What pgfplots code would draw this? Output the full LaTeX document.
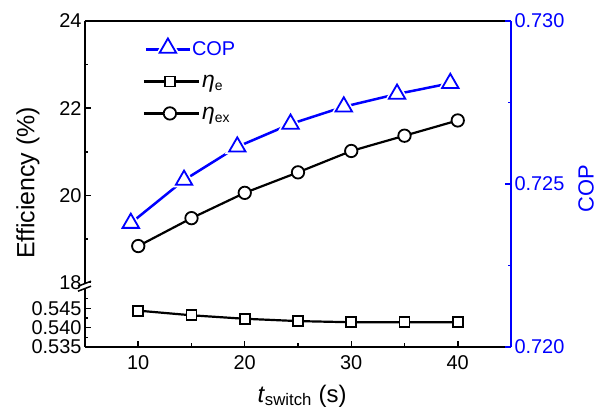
\documentclass[border=0pt]{standalone}
\usepackage{fontspec}
\setmainfont{Liberation Sans}
\usepackage{pgfplots}
\pgfplotsset{compat=1.18}
\begin{document}
\begin{tikzpicture}
\path[use as bounding box] (-85bp,-61bp) rectangle (517bp,347bp);
\pgfplotsset{
  every axis/.append style={
    scale only axis, width=426bp, clip=false, xmin=5, xmax=45,
    tick align=inside,
    major tick length=6bp, minor tick length=3.5bp,
    tick style={line width=1.5bp, black},
    tick label style={font=\fontsize{20}{24}\selectfont},
    /pgf/number format/assume math mode=true,
    axis line style={line width=1.8bp, -},
    scaled y ticks=false,
  },
}
% ---- upper (eta_ex) ----
\begin{axis}[at={(0bp,64.3bp)}, anchor=south west, height=261.7bp,
  ymin=18, ymax=24,
  axis x line*=top, axis y line*=left, xtick=\empty,
  ytick={18,20,22,24}, minor ytick={19,21,23},
  legend style={draw=none, fill=none, at={(axis description cs:0.135,0.938)}, anchor=north west,
    font=\fontsize{20}{24}\selectfont, row sep=0bp, inner sep=0pt,
    nodes={inner sep=2bp, text height=16bp, text depth=12bp, anchor=base west}},
  legend cell align=left,
]
\addlegendimage{legend image code/.code={
  \draw[blue, line width=2.5bp] (2bp,6bp) -- (46bp,6bp);
  \draw[white, line width=5bp, fill=white] plot[only marks, mark=triangle*, mark size=9.5bp] coordinates {(24bp,7.5bp)};
  \draw[blue, line width=1.8bp, fill=white] plot[only marks, mark=triangle*, mark size=9.5bp] coordinates {(24bp,7.5bp)};
}}
\addlegendentry{\hspace{-10bp}\textcolor{blue}{COP}}
\addlegendimage{legend image code/.code={
  \draw[black, line width=2.4bp] (0bp,6bp) -- (55bp,6bp);
  \draw[black, line width=1.8bp, fill=white] plot[only marks, mark=square*, mark size=5bp] coordinates {(26bp,6bp)};
}}
\addlegendentry{{\fontsize{23}{24}\selectfont\textit{η}}\textsubscript{e}}
\addlegendimage{legend image code/.code={
  \draw[black, line width=2.4bp] (0bp,6bp) -- (55bp,6bp);
  \draw[black, line width=1.8bp, fill=white] plot[only marks, mark=*, mark size=6.2bp] coordinates {(26bp,6bp)};
}}
\addlegendentry{{\fontsize{23}{24}\selectfont\textit{η}}\textsubscript{ex}}
\addplot[black, line width=2.2bp, mark=*, mark size=6.2bp, mark options={fill=white, line width=1.8bp}, forget plot]
  coordinates {(10,18.84) (15,19.48) (20,20.06) (25,20.53) (30,21.02) (35,21.37) (40,21.72)};
\end{axis}
% ---- lower (eta_e) ----
\begin{axis}[at={(0bp,0bp)}, anchor=south west, height=58bp,
  ymin=0.535, ymax=0.550,
  axis x line*=bottom, axis y line*=left,
  xtick={10,20,30,40}, minor xtick={15,25,35},
  xticklabel style={yshift=-5bp},
  ytick={0.535,0.540,0.545}, minor ytick={0.5375,0.5425,0.5475},
  yticklabel style={/pgf/number format/.cd, fixed, fixed zerofill, precision=3},
]
\addplot[black, line width=2.2bp, mark=square*, mark size=5bp, mark options={fill=white, line width=1.8bp}]
  coordinates {(10,0.5444) (15,0.5432) (20,0.5423) (25,0.5417) (30,0.5414) (35,0.5414) (40,0.5414)};
\end{axis}
% ---- COP axis ----
\begin{axis}[at={(0bp,0bp)}, anchor=south west, height=326bp,
  ymin=0.720, ymax=0.730,
  axis y line*=right, axis x line=none,
  y axis line style={blue},
  ytick style={blue, line width=1.5bp},
  ytick={0.720,0.725,0.730}, minor ytick={0.7225,0.7275},
  yticklabel style={blue, /pgf/number format/.cd, fixed, fixed zerofill, precision=3},
]
\addplot[blue, line width=2.5bp] coordinates
  {(9.3,0.72380) (14.3,0.72512) (19.3,0.72614) (24.3,0.72684) (29.3,0.72737) (34.3,0.72776) (39.3,0.72809)};
\addplot[only marks, white, mark=triangle*, mark size=9.5bp, mark options={line width=5bp, fill=white}] coordinates
  {(9.3,0.72380) (14.3,0.72512) (19.3,0.72614) (24.3,0.72684) (29.3,0.72737) (34.3,0.72776) (39.3,0.72809)};
\addplot[only marks, blue, mark=triangle*, mark size=9.5bp, mark options={line width=1.8bp, fill=white}] coordinates
  {(9.3,0.72380) (14.3,0.72512) (19.3,0.72614) (24.3,0.72684) (29.3,0.72737) (34.3,0.72776) (39.3,0.72809)};
\end{axis}
% axis break marks
\draw[line width=1.5bp] (-7bp,60.8bp) -- (6bp,65.8bp);
\draw[line width=1.5bp] (-7bp,55.8bp) -- (6bp,60.8bp);
% axis titles
\node[rotate=90, font=\fontsize{25}{30}\selectfont] at (-57bp,164bp) {Efficiency (\%)};
\node[rotate=90, font=\fontsize{22}{26}\selectfont, blue] at (501bp,158bp) {COP};
\node[font=\fontsize{24}{28}\selectfont] at (217bp,-49bp) {\textit{t}\textsubscript{switch} (s)};
\end{tikzpicture}
\end{document}
